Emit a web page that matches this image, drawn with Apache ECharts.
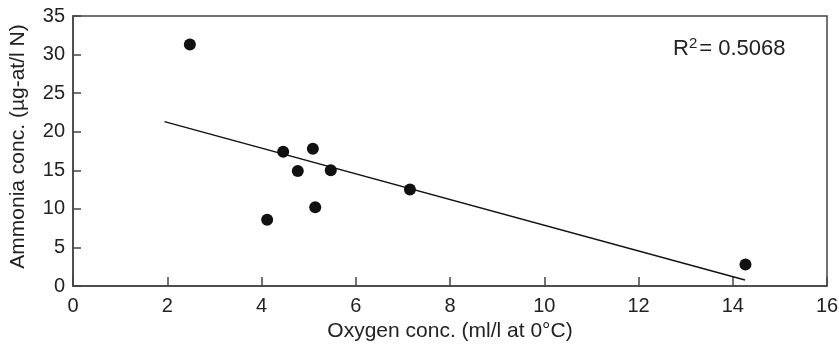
<!DOCTYPE html>
<html>
<head>
<meta charset="utf-8">
<script src="https://cdn.jsdelivr.net/npm/echarts@6/dist/echarts.min.js"></script>
<style>
  html, body { margin: 0; padding: 0; background: #fff; }
  #chart { width: 839px; height: 348px; }
</style>
</head>
<body>
<div id="chart"></div>
<script>
// measured points
const oxygen = [2.48, 4.12, 4.46, 4.77, 5.09, 5.14, 5.47, 7.15, 14.27];
const ammonia = [31.3, 8.6, 17.4, 14.9, 17.8, 10.2, 15.0, 12.5, 2.8];
// fitted line end points
const trendX = [1.94, 14.26];
const trendY = [21.3, 0.78];
const rSquared = '0.5068';

const font = 'Liberation Sans, Arial, sans-serif';
const ink = '#222';
const axisColor = '#444';

const chart = echarts.init(document.getElementById('chart'));
chart.setOption({
    animation: false,
    backgroundColor: '#fff',
    title: {
        text: '{a|R}{b|2}{a|= ' + rSquared + '}',
        left: 673,
        top: 36,
        padding: 0,
        textStyle: {
            fontFamily: font,
            fontSize: 22,
            fontWeight: 'normal',
            color: ink,
            rich: {
                a: { fontFamily: font, fontSize: 22, fontWeight: 'normal', lineHeight: 26, color: ink },
                b: { fontFamily: font, fontSize: 15, fontWeight: 'normal', lineHeight: 7, color: ink, verticalAlign: 'top', padding: [0, 2, 0, 0] }
            }
        }
    },
    grid: {
        left: 73,
        right: 12,
        top: 16,
        bottom: 62,
        show: true,
        borderColor: axisColor,
        borderWidth: 1.5,
        outerBoundsMode: 'none'
    },
    xAxis: {
        type: 'value',
        min: 0,
        max: 16,
        interval: 2,
        name: 'Oxygen conc. (ml/l at 0°C)',
        nameLocation: 'middle',
        nameGap: 34,
        nameTextStyle: { fontFamily: font, fontSize: 21, color: ink },
        axisLine: { show: true, lineStyle: { color: axisColor, width: 1.5 } },
        axisTick: { show: true, inside: true, length: 9, lineStyle: { color: axisColor, width: 1.5 } },
        axisLabel: { fontFamily: font, fontSize: 20, color: ink, margin: 10 },
        splitLine: { show: false }
    },
    yAxis: {
        type: 'value',
        min: 0,
        max: 35,
        interval: 5,
        name: 'Ammonia conc. (µg-at/l N)',
        nameLocation: 'middle',
        nameGap: 44,
        nameTextStyle: { fontFamily: font, fontSize: 21, color: ink, padding: [0, 0, 0, 9] },
        axisLine: { show: true, lineStyle: { color: axisColor, width: 1.5 } },
        axisTick: { show: true, inside: true, length: 8, lineStyle: { color: axisColor, width: 1.5 } },
        axisLabel: { fontFamily: font, fontSize: 20, color: ink, margin: 8 },
        splitLine: { show: false }
    },
    series: [
        {
            type: 'line',
            data: trendX.map((x, i) => [x, trendY[i]]),
            symbol: 'none',
            lineStyle: { color: '#111', width: 1.4 },
            silent: true
        },
        {
            type: 'scatter',
            data: oxygen.map((x, i) => [x, ammonia[i]]),
            symbol: 'circle',
            symbolSize: 12,
            itemStyle: { color: '#111', opacity: 1 }
        }
    ]
});
</script>
</body>
</html>
